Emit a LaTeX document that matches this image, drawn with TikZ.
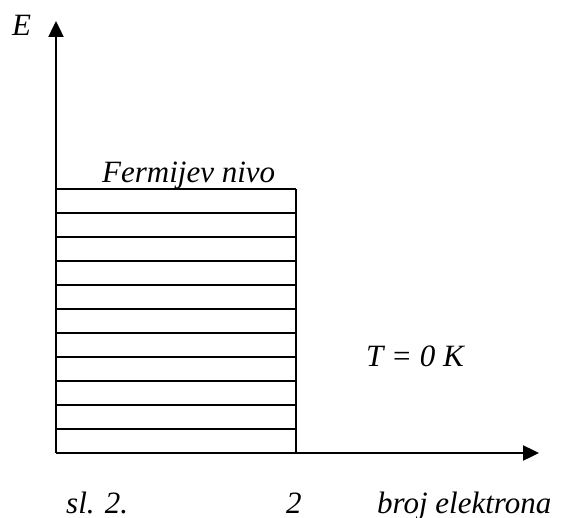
\documentclass[tikz,border=0pt]{standalone}
\usepackage{fontspec}
\setmainfont{Liberation Serif}
\usetikzlibrary{arrows.meta}
\begin{document}
\begin{tikzpicture}[x=1pt,y=-1pt,
  axis/.style={line width=2.4pt,-{Triangle[length=16pt,width=15pt]}},
  level/.style={line width=1.8pt},
  lbl/.style={inner sep=0pt,anchor=base west,font=\fontsize{31}{36}\selectfont\itshape}]
\useasboundingbox (0,0) rectangle (561,518);
\coordinate (O) at (56,453);
\coordinate (ytip) at (56,21);
\coordinate (xtip) at (539,453);
\coordinate (bTL) at (56,189);
\coordinate (bBR) at (296,453);
\foreach \i in {0,...,10} {
  \draw[level] (56,{189+24*\i}) -- (296,{189+24*\i});
}
\draw[level] (bBR) -- (296,189);
\draw[axis] (O) -- (ytip);
\draw[axis] (O) -- (xtip);
\node[lbl] (E) at (12,36) {E};
\node[lbl] (fn) at (102,183) {Fermijev nivo};
\node[lbl] (T) at (366,366) {T = 0 K};
\node[lbl] (sl) at (66,513) {sl. 2.};
\node[lbl] (two) at (286,513) {2};
\node[lbl] (be) at (377,513) {broj elektrona};
\end{tikzpicture}
\end{document}
